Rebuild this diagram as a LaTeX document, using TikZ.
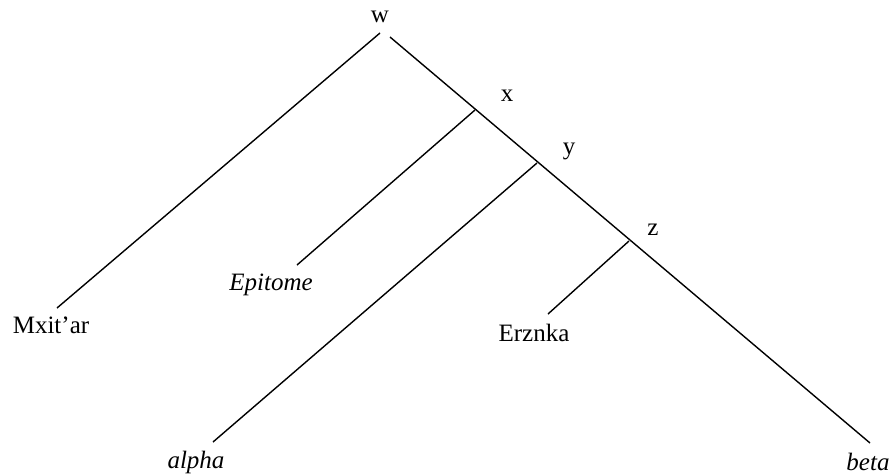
\documentclass[tikz,border=0pt]{standalone}
\usepackage{fontspec}
\setmainfont{Liberation Serif}
\begin{document}
\begin{tikzpicture}[x=1pt,y=-1pt,
  lbl/.style={inner sep=0pt,font=\fontsize{25}{30}\selectfont},
  branch/.style={line width=1.4pt}]
\useasboundingbox (0,0) rectangle (891,475);
% labels
\node[lbl] (w) at (380,17) {w};
\node[lbl] (x) at (507,96) {x};
\node[lbl] (y) at (569,151) {y};
\node[lbl] (z) at (653,230) {z};
\node[lbl,anchor=base] (mx) at (51,333) {Mxit'ar};
\node[lbl,anchor=base,font=\fontsize{25}{30}\selectfont\itshape] (ep) at (271,290) {Epitome};
\node[lbl,anchor=base] (er) at (534,341) {Erznka};
\node[lbl,anchor=base,font=\fontsize{25}{30}\selectfont\itshape] (al) at (196,468) {alpha};
\node[lbl,anchor=base,font=\fontsize{25}{30}\selectfont\itshape] (be) at (868,470) {beta};
% junction points
\coordinate (wl) at (380,33);
\coordinate (wr) at (390,37);
\coordinate (jx) at (475,110);
\coordinate (jy) at (537,163);
\coordinate (jz) at (629,241);
\coordinate (emx) at (57,308);
\coordinate (eep) at (297,265);
\coordinate (eer) at (548,314);
\coordinate (eal) at (213,442);
\coordinate (ebe) at (870,443);
% branches
\draw[branch] (wl) -- (emx);
\draw[branch] (wr) -- (ebe);
\draw[branch] (jx) -- (eep);
\draw[branch] (jy) -- (eal);
\draw[branch] (jz) -- (eer);
\end{tikzpicture}
\end{document}
